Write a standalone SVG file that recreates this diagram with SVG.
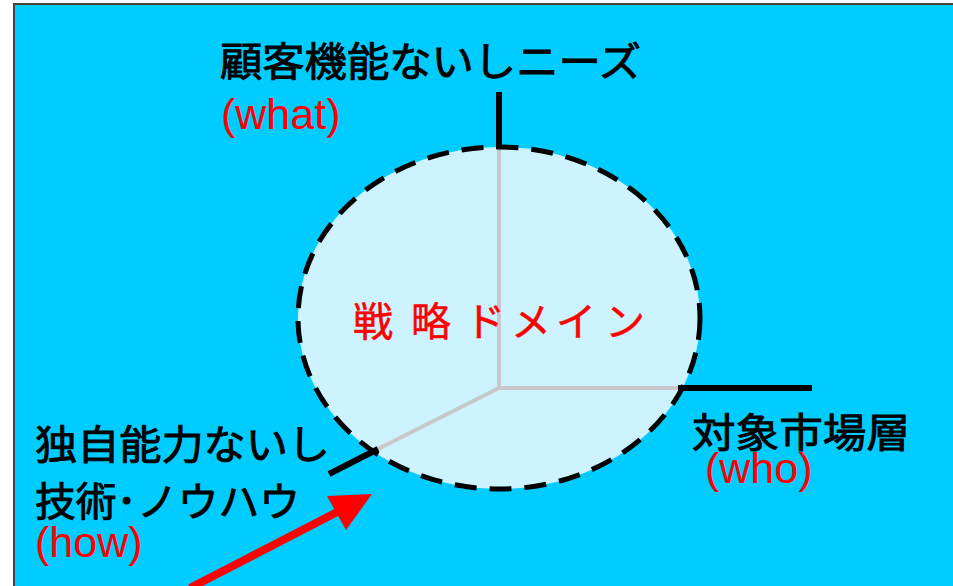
<svg xmlns="http://www.w3.org/2000/svg" width="953" height="586" viewBox="0 0 953 586">
<style>
.jp{font-family:"Noto Sans CJK JP","Noto Sans",sans-serif;font-size:40px;fill:#000;stroke:#000;stroke-width:0.9}
.red{font-family:"Noto Sans CJK JP","Noto Sans",sans-serif;font-size:40px;fill:#ff0000;stroke:#ff0000;stroke-width:0.5}
.en{font-family:"Liberation Sans",Arial,sans-serif;font-size:43px;fill:#ff0000}
.ax{stroke:#000;stroke-width:6;fill:none}
.gr{stroke:#c8c8c8;stroke-width:4;fill:none}
</style>
<rect x="0" y="0" width="953" height="586" fill="#ffffff"/>
<rect id="frame" x="14" y="4" width="960" height="600" fill="#00ccff" stroke="#444" stroke-width="2"/>
<g id="domain">
<ellipse cx="499" cy="318" rx="201" ry="171" fill="#ccf3ff"/>
</g>
<g id="connectors">
<line class="gr" x1="499" y1="148" x2="499" y2="388"/>
<line class="gr" x1="499" y1="388" x2="680" y2="388"/>
<line class="gr" x1="499" y1="388" x2="376" y2="450"/>
<line class="ax" x1="499" y1="92" x2="499" y2="149"/>
<line class="ax" x1="678" y1="388" x2="812" y2="388"/>
<line class="ax" x1="378" y1="449" x2="329" y2="474"/>
<line stroke="#ff0000" stroke-width="8" x1="190" y1="588" x2="345" y2="508"/>
<polygon fill="#ff0000" points="372,494 327,496 346,530"/>
</g>
<ellipse cx="499" cy="318" rx="201" ry="171" fill="none" stroke="#000" stroke-width="5" stroke-dasharray="22 13"/>
<g id="domain-label">
<text class="red" x="353 395 411 465 511 556 605" y="336">戦 略ドメイン</text>
</g>
<g id="what">
<text class="jp" x="220" y="76" textLength="421" lengthAdjust="spacingAndGlyphs">顧客機能ないしニーズ</text>
<text class="en" x="221" y="129">(what)</text>
</g>
<g id="who">
<text class="jp" x="692" y="447" textLength="218" lengthAdjust="spacingAndGlyphs">対象市場層</text>
<text class="en" x="705" y="483">(who)</text>
</g>
<g id="how">
<text class="jp" x="35" y="459" textLength="295" lengthAdjust="spacingAndGlyphs">独自能力ないし</text>
<text class="jp" x="35" y="516" textLength="265" lengthAdjust="spacingAndGlyphs">技術･ノウハウ</text>
<text class="en" x="35" y="557">(how)</text>
</g>
</svg>
